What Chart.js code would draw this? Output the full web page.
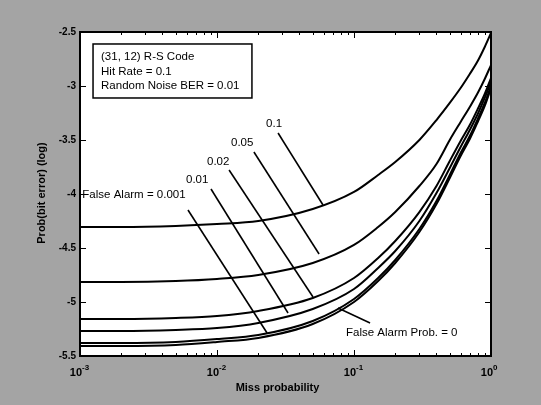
<!DOCTYPE html>
<html>
<head>
<meta charset="utf-8">
<script src="https://cdn.jsdelivr.net/npm/chart.js@4/dist/chart.umd.min.js"></script>
<style>
  html, body { margin: 0; padding: 0; background: #a4a4a4; }
  #wrap { width: 541px; height: 405px; }
</style>
</head>
<body>
<div id="wrap"><canvas id="chart" width="541" height="405"></canvas></div>
<script>
// miss probability (x, log scale)
const missProb = [0.001, 0.002, 0.005, 0.01, 0.02, 0.05, 0.1, 0.15, 0.2, 0.3, 0.4, 0.5, 0.6, 0.7, 0.8, 0.9, 1.0];

// log10 bit error probability, one array per false alarm probability
const fa010 = [-4.306, -4.306, -4.296, -4.278, -4.25, -4.139, -3.981, -3.824, -3.704, -3.5, -3.315, -3.157, -3.019, -2.889, -2.769, -2.639, -2.509];
const fa005 = [-4.815, -4.815, -4.806, -4.787, -4.75, -4.639, -4.472, -4.306, -4.167, -3.926, -3.722, -3.5, -3.333, -3.194, -3.065, -2.935, -2.806];
const fa002 = [-5.157, -5.157, -5.148, -5.130, -5.083, -4.963, -4.778, -4.593, -4.435, -4.167, -3.926, -3.694, -3.509, -3.361, -3.213, -3.074, -2.926];
const fa001 = [-5.269, -5.269, -5.259, -5.241, -5.194, -5.065, -4.880, -4.685, -4.528, -4.25, -3.991, -3.759, -3.565, -3.407, -3.259, -3.111, -2.963];
const fa0001 = [-5.380, -5.380, -5.370, -5.343, -5.306, -5.176, -4.972, -4.778, -4.611, -4.324, -4.065, -3.824, -3.620, -3.463, -3.306, -3.157, -3.0];
const fa0 = [-5.407, -5.407, -5.398, -5.370, -5.333, -5.204, -5.0, -4.806, -4.639, -4.352, -4.093, -3.852, -3.648, -3.491, -3.333, -3.185, -3.019];

const seriesNames = ['0.1', '0.05', '0.02', '0.01', '0.001', '0'];
const seriesValues = [fa010, fa005, fa002, fa001, fa0001, fa0];

// tick labels
const xTicks = [0.001, 0.01, 0.1, 1];
const xTickExp = ['-3', '-2', '-1', '0'];
const yTicks = [-2.5, -3, -3.5, -4, -4.5, -5, -5.5];
const yTickLabels = ['-2.5', '-3', '-3.5', '-4', '-4.5', '-5', '-5.5'];

// text annotations (data coordinates)
const infoLines = ['(31, 12) R-S Code', 'Hit Rate = 0.1', 'Random Noise BER = 0.01'];
const notes = [
  { text: '0.1', x: 0.0228, y: -3.352, from: [0.0279, -3.435], to: [0.0594, -4.102] },
  { text: '0.05', x: 0.01265, y: -3.528, from: [0.0186, -3.611], to: [0.0556, -4.556] },
  { text: '0.02', x: 0.00845, y: -3.704, from: [0.01225, -3.778], to: [0.0502, -4.954] },
  { text: '0.01', x: 0.00594, y: -3.870, from: [0.00904, -3.954], to: [0.033, -5.102] },
  { text: 'False Alarm = 0.001', x: 0.00104, y: -4.009, from: [0.00614, -4.148], to: [0.0232, -5.287] },
  { text: 'False Alarm Prob. = 0', x: 0.0874, y: -5.287, from: [0.131, -5.194], to: [0.0764, -5.056] }
];

const datasets = seriesNames.map((name, i) => ({
  label: name,
  data: missProb.map((p, j) => ({ x: p, y: seriesValues[i][j] })),
  borderColor: '#000',
  borderWidth: 2,
  pointRadius: 0,
  fill: false,
  cubicInterpolationMode: 'monotone'
}));

const decor = {
  id: 'decor',
  beforeDraw(chart) {
    const ctx = chart.ctx, a = chart.chartArea;
    ctx.save();
    ctx.fillStyle = '#a4a4a4';
    ctx.fillRect(0, 0, chart.width, chart.height);
    ctx.fillStyle = '#fff';
    ctx.fillRect(a.left, a.top, a.right - a.left, a.bottom - a.top);
    ctx.restore();
  },
  afterDatasetsDraw(chart) {
    const ctx = chart.ctx, a = chart.chartArea;
    const xs = chart.scales.x, ys = chart.scales.y;
    ctx.save();
    ctx.strokeStyle = '#000';
    ctx.fillStyle = '#000';

    // frame
    ctx.lineWidth = 2;
    ctx.strokeRect(a.left, a.top, a.right - a.left, a.bottom - a.top);

    // ticks, inward on all sides
    ctx.lineWidth = 1;
    ctx.beginPath();
    for (let d = 0.001; d < 1; d *= 10) {
      for (let m = 1; m <= 9; m++) {
        const px = Math.round(xs.getPixelForValue(d * m)) + 0.5;
        const len = m === 1 ? 6 : 3;
        ctx.moveTo(px, a.bottom); ctx.lineTo(px, a.bottom - len);
        ctx.moveTo(px, a.top); ctx.lineTo(px, a.top + len);
      }
    }
    yTicks.forEach(v => {
      const py = Math.round(ys.getPixelForValue(v)) + 0.5;
      ctx.moveTo(a.left, py); ctx.lineTo(a.left + 6, py);
      ctx.moveTo(a.right, py); ctx.lineTo(a.right - 6, py);
    });
    ctx.stroke();

    // y tick labels
    ctx.font = 'bold 10px "Liberation Sans", Arial, sans-serif';
    ctx.textAlign = 'right';
    ctx.textBaseline = 'middle';
    yTicks.forEach((v, i) => {
      ctx.fillText(yTickLabels[i], a.left - 4, ys.getPixelForValue(v));
    });

    // x tick labels 10^n
    xTicks.forEach((v, i) => {
      const px = xs.getPixelForValue(v);
      ctx.font = 'bold 11px "Liberation Sans", Arial, sans-serif';
      ctx.textAlign = 'right';
      ctx.textBaseline = 'alphabetic';
      ctx.fillText('10', px + 2, a.bottom + 20);
      ctx.font = 'bold 8px "Liberation Sans", Arial, sans-serif';
      ctx.textAlign = 'left';
      ctx.fillText(xTickExp[i], px + 2, a.bottom + 14);
    });

    // axis titles
    ctx.font = 'bold 11px "Liberation Sans", Arial, sans-serif';
    ctx.textAlign = 'center';
    ctx.textBaseline = 'middle';
    ctx.fillText('Miss probability', (a.left + a.right) / 2 - 8, a.bottom + 32);
    ctx.save();
    ctx.translate(a.left - 38, 193);
    ctx.rotate(-Math.PI / 2);
    ctx.fillText('Prob(bit error) (log)', 0, 0);
    ctx.restore();

    // info box
    const bx0 = xs.getPixelForValue(0.001245), by0 = ys.getPixelForValue(-2.611);
    const bx1 = xs.getPixelForValue(0.01799), by1 = ys.getPixelForValue(-3.111);
    ctx.lineWidth = 1.5;
    ctx.strokeRect(bx0, by0, bx1 - bx0, by1 - by0);
    ctx.font = '11.5px "Liberation Sans", Arial, sans-serif';
    ctx.textAlign = 'left';
    infoLines.forEach((t, i) => ctx.fillText(t, bx0 + 8, by0 + 13 + i * 14.5));

    // curve labels with leader lines
    ctx.lineWidth = 1.6;
    notes.forEach(n => {
      ctx.beginPath();
      ctx.moveTo(xs.getPixelForValue(n.from[0]), ys.getPixelForValue(n.from[1]));
      ctx.lineTo(xs.getPixelForValue(n.to[0]), ys.getPixelForValue(n.to[1]));
      ctx.stroke();
      ctx.fillText(n.text, xs.getPixelForValue(n.x), ys.getPixelForValue(n.y));
    });
    ctx.restore();
  }
};

new Chart(document.getElementById('chart'), {
  type: 'line',
  data: { datasets },
  options: {
    responsive: false,
    animation: false,
    devicePixelRatio: 1,
    layout: { padding: { left: 80, right: 50, top: 32, bottom: 49 } },
    plugins: { legend: { display: false }, tooltip: { enabled: false } },
    scales: {
      x: { type: 'logarithmic', min: 0.001, max: 1, display: false },
      y: { type: 'linear', min: -5.5, max: -2.5, display: false }
    }
  },
  plugins: [decor]
});
</script>
</body>
</html>
